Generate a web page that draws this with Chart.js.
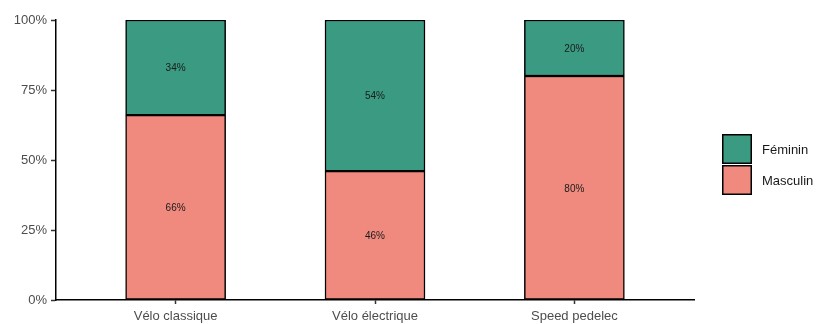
<!DOCTYPE html>
<html>
<head>
<meta charset="utf-8">
<script src="https://cdn.jsdelivr.net/npm/chart.js@4/dist/chart.umd.min.js"></script>
<style>
  html, body { margin: 0; padding: 0; background: #ffffff; }
  #wrap { width: 819px; height: 324px; }
</style>
</head>
<body>
<div id="wrap"><canvas id="c" width="819" height="324"></canvas></div>
<script>
// Share of riders by sex, per bike type (percent)
const categories = ['Vélo classique', 'Vélo électrique', 'Speed pedelec'];
const masculin = [66, 46, 80];
const feminin = [34, 54, 20];
const yTicks = [0, 25, 50, 75, 100];

const seriesNames = ['Masculin', 'Féminin'];
const seriesColors = ['#F08A7E', '#3A9B82'];

const FONT = '"Liberation Sans", Arial, sans-serif';

function points(values) {
  return values.map((v, i) => ({ x: i, y: v }));
}

// Percent labels centred in each stacked segment
const segmentLabels = {
  id: 'segmentLabels',
  afterDatasetsDraw(chart) {
    const ctx = chart.ctx;
    ctx.save();
    ctx.font = '10px ' + FONT;
    ctx.fillStyle = '#1a1a1a';
    ctx.textAlign = 'center';
    ctx.textBaseline = 'middle';
    chart.data.datasets.forEach((ds, di) => {
      const meta = chart.getDatasetMeta(di);
      meta.data.forEach((el, i) => {
        const p = el.getProps(['x', 'y', 'base'], true);
        ctx.fillText(ds.data[i].y + '%', p.x, (p.y + p.base) / 2 + 1);
      });
    });
    ctx.restore();
  }
};

// Legend on the right: square keys with black outline, top series first
const sideLegend = {
  id: 'sideLegend',
  afterDraw(chart) {
    const ctx = chart.ctx;
    const x = 722, size = 30, step = 31;
    const order = [1, 0];
    const top = 134;
    ctx.save();
    ctx.font = '13px ' + FONT;
    ctx.textBaseline = 'middle';
    ctx.textAlign = 'left';
    order.forEach((di, k) => {
      const ds = chart.data.datasets[di];
      const y = top + k * step;
      ctx.fillStyle = ds.backgroundColor;
      ctx.fillRect(x, y, size, size);
      ctx.lineWidth = 1.5;
      ctx.strokeStyle = '#000000';
      ctx.strokeRect(x + 0.75, y + 0.75, size - 1.5, size - 1.5);
      ctx.fillStyle = '#1a1a1a';
      ctx.fillText(ds.label, x + size + 10, y + size / 2 + 1);
    });
    ctx.restore();
  }
};

new Chart(document.getElementById('c'), {
  type: 'bar',
  data: {
    datasets: [
      {
        label: seriesNames[0],
        data: points(masculin),
        backgroundColor: seriesColors[0],
        borderColor: '#000000',
        borderWidth: 1.5,
        borderSkipped: false,
        barThickness: 100
      },
      {
        label: seriesNames[1],
        data: points(feminin),
        backgroundColor: seriesColors[1],
        borderColor: '#000000',
        borderWidth: 1.5,
        borderSkipped: false,
        barThickness: 100
      }
    ]
  },
  options: {
    responsive: false,
    animation: false,
    devicePixelRatio: 1,
    layout: { padding: { top: 20, right: 125, left: 0, bottom: 0 } },
    plugins: {
      legend: { display: false },
      tooltip: { enabled: false }
    },
    scales: {
      x: {
        type: 'linear',
        stacked: true,
        offset: false,
        min: -0.6,
        max: 2.6,
        afterBuildTicks(scale) {
          scale.ticks = categories.map((_, i) => ({ value: i }));
        },
        afterFit(scale) { scale.height = 24; },
        grid: {
          offset: false,
          drawOnChartArea: false,
          drawTicks: true,
          tickLength: 4,
          tickWidth: 1.5,
          tickColor: '#333333'
        },
        border: { display: true, color: '#000000', width: 1.5 },
        ticks: {
          padding: 5,
          color: '#4D4D4D',
          font: { family: FONT, size: 13 },
          maxRotation: 0,
          callback: (v) => categories[v] ?? ''
        }
      },
      y: {
        stacked: true,
        min: 0,
        max: 100,
        afterBuildTicks(scale) {
          scale.ticks = yTicks.map(v => ({ value: v }));
        },
        afterFit(scale) { scale.width = 56; },
        grid: {
          drawOnChartArea: false,
          drawTicks: true,
          tickLength: 5,
          tickWidth: 1.5,
          tickColor: '#333333'
        },
        border: { display: true, color: '#000000', width: 1.5 },
        ticks: {
          padding: 4,
          color: '#4D4D4D',
          font: { family: FONT, size: 13 },
          callback: (v) => v + '%'
        }
      }
    }
  },
  plugins: [segmentLabels, sideLegend]
});
</script>
</body>
</html>
